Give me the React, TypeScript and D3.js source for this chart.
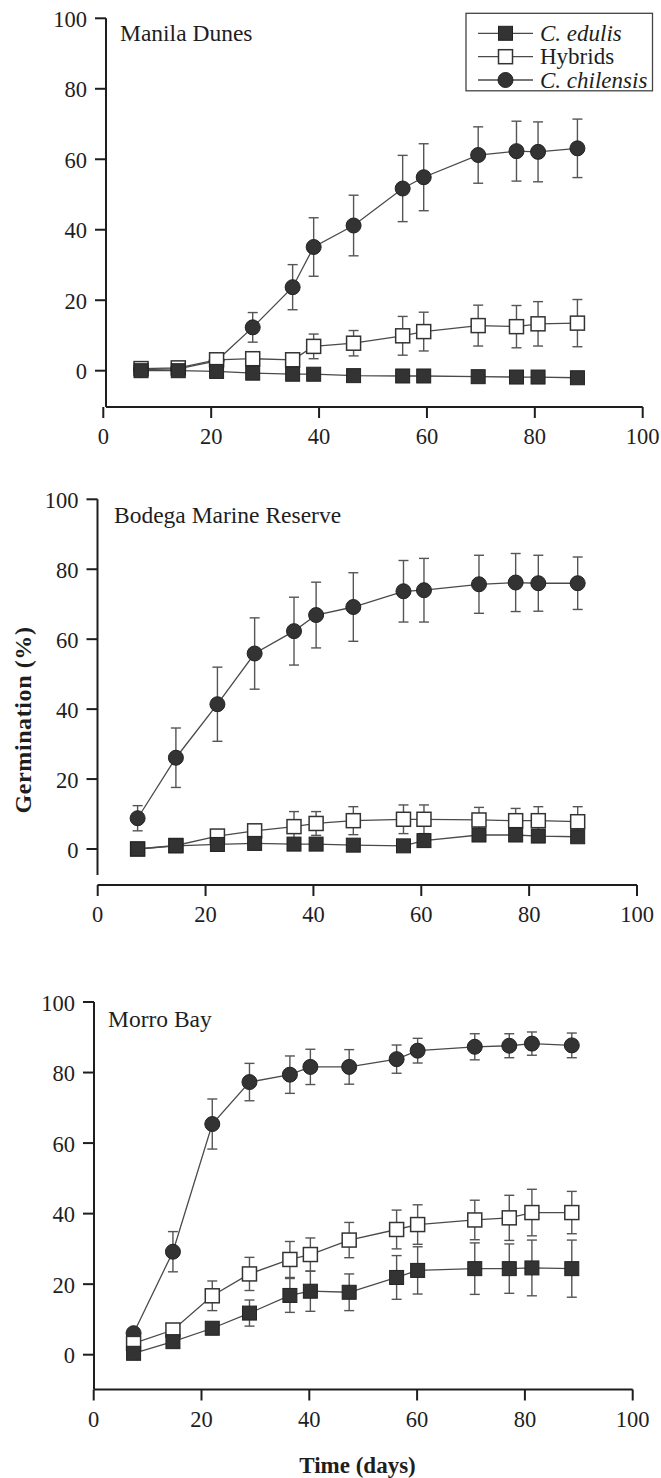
import React from "react";
import * as d3 from "d3";

// ---------- data ----------
const seriesNames = ["C. edulis", "Hybrids", "C. chilensis"];
const panelTitles = ["Manila Dunes", "Bodega Marine Reserve", "Morro Bay"];
const xTicks = [0, 20, 40, 60, 80, 100];
const yTicks = [0, 20, 40, 60, 80, 100];

// Manila Dunes
const manilaDays = [7, 13.9, 21, 27.7, 35.1, 39, 46.4, 55.5, 59.4, 69.5, 76.6, 80.6, 87.9];
const manilaEdulis = [0, 0, -0.2, -0.7, -1, -1, -1.4, -1.5, -1.5, -1.7, -1.8, -1.8, -2];
const manilaEdulisErr = [0, 0, 0, 0, 0, 0, 0, 0, 0, 0, 0, 0, 0];
const manilaHybrids = [0.6, 0.8, 3.1, 3.4, 3.1, 6.9, 7.8, 9.9, 11.1, 12.8, 12.5, 13.3, 13.5];
const manilaHybridsErr = [0, 0, 0, 0, 0, 3.5, 3.6, 5.5, 5.5, 5.8, 6, 6.3, 6.7];
const manilaChilensis = [0.3, 0.5, 2.8, 12.3, 23.7, 35.1, 41.2, 51.7, 54.9, 61.2, 62.3, 62.1, 63.1];
const manilaChilensisErr = [0, 0, 0.5, 4.2, 6.4, 8.3, 8.6, 9.4, 9.5, 8, 8.5, 8.5, 8.3];

// Bodega Marine Reserve
const bodegaDays = [7.4, 14.5, 22.2, 29.1, 36.4, 40.5, 47.4, 56.7, 60.5, 70.7, 77.5, 81.7, 89];
const bodegaEdulis = [0, 0.9, 1.3, 1.6, 1.4, 1.4, 1.1, 0.9, 2.4, 4, 4, 3.7, 3.5];
const bodegaEdulisErr = [0, 0, 0, 0, 0, 0, 0, 0, 0, 0, 0, 0, 0];
const bodegaHybrids = [0, 1, 3.7, 5.2, 6.4, 7.3, 8.1, 8.5, 8.5, 8.3, 8.1, 8.1, 7.8];
const bodegaHybridsErr = [0, 0, 0.5, 1, 4.3, 3.4, 4, 4.1, 4.1, 3.6, 3.5, 4, 4.3];
const bodegaChilensis = [8.8, 26.1, 41.4, 55.9, 62.3, 66.9, 69.2, 73.7, 74, 75.7, 76.2, 76, 76];
const bodegaChilensisErr = [3.6, 8.5, 10.6, 10.2, 9.7, 9.4, 9.8, 8.8, 9.1, 8.3, 8.3, 8, 7.5];

// Morro Bay
const morroDays = [7.4, 14.7, 22, 28.9, 36.4, 40.2, 47.4, 56.2, 60.1, 70.7, 77.1, 81.3, 88.7];
const morroEdulis = [0.4, 3.7, 7.5, 11.8, 16.8, 18, 17.7, 21.9, 23.9, 24.4, 24.4, 24.6, 24.4];
const morroEdulisErr = [0, 0, 0.5, 3.7, 4.8, 5.7, 5.2, 6.2, 6.7, 7.3, 7, 7.9, 8.1];
const morroHybrids = [3.2, 7, 16.7, 22.9, 27, 28.4, 32.5, 35.5, 36.9, 38.2, 38.8, 40.3, 40.3];
const morroHybridsErr = [0, 0, 4.2, 4.7, 5.1, 4.7, 5, 5.5, 5.6, 5.6, 6.4, 6.6, 6];
const morroChilensis = [6.1, 29.2, 65.4, 77.3, 79.4, 81.6, 81.6, 83.8, 86.2, 87.3, 87.6, 88.2, 87.7];
const morroChilensisErr = [0.5, 5.7, 7.1, 5.3, 5.3, 5, 4.9, 4, 3.5, 3.7, 3.4, 3.3, 3.5];

const panelsData = [
  {
    days: manilaDays,
    values: [manilaEdulis, manilaHybrids, manilaChilensis],
    errs: [manilaEdulisErr, manilaHybridsErr, manilaChilensisErr],
  },
  {
    days: bodegaDays,
    values: [bodegaEdulis, bodegaHybrids, bodegaChilensis],
    errs: [bodegaEdulisErr, bodegaHybridsErr, bodegaChilensisErr],
  },
  {
    days: morroDays,
    values: [morroEdulis, morroHybrids, morroChilensis],
    errs: [morroEdulisErr, morroHybridsErr, morroChilensisErr],
  },
];

// ---------- layout ----------
const layouts = [
  { x0: 103.3, x100: 642.7, y0: 370.7, y100: 18.3, axisX: 106, axisY: 407, yAxisBottom: 407, titleX: 120, titleY: 41 },
  { x0: 97.7, x100: 637, y0: 849, y100: 499.3, axisX: 97.5, axisY: 885, yAxisBottom: 875, titleX: 114, titleY: 523 },
  { x0: 93.7, x100: 632.7, y0: 1354.7, y100: 1002, axisX: 94, axisY: 1389.5, yAxisBottom: 1389.5, titleX: 108, titleY: 1027 },
];

const FONT = "'Liberation Serif', 'Times New Roman', serif";
const INK = "#1e1e1e";
const MARK = "#333";
const LINE = "#4a4a4a";
const ERR = "#555";
const TICK = 11;
const SQ = 14;
const R = 7.5;
const CAP = 5;

function Marker({ type, x, y }: { type: number; x: number; y: number }) {
  if (type === 2) return <circle cx={x} cy={y} r={R} fill={MARK} stroke="#222" strokeWidth={1} />;
  if (type === 1)
    return <rect x={x - SQ / 2} y={y - SQ / 2} width={SQ} height={SQ} fill="#fff" stroke={MARK} strokeWidth={1.5} />;
  return <rect x={x - SQ / 2} y={y - SQ / 2} width={SQ} height={SQ} fill={MARK} stroke="#222" strokeWidth={1} />;
}

function Panel({ idx }: { idx: number }) {
  const L = layouts[idx];
  const D = panelsData[idx];
  const x = d3.scaleLinear().domain([0, 100]).range([L.x0, L.x100]);
  const y = d3.scaleLinear().domain([0, 100]).range([L.y0, L.y100]);
  const line = d3
    .line<number>()
    .x((_, i) => x(D.days[i]))
    .y((v) => y(v));
  const order = [2, 1, 0];
  return (
    <g>
      {/* y axis */}
      <line x1={L.axisX} x2={L.axisX} y1={y(100)} y2={L.yAxisBottom} stroke={INK} strokeWidth={2} />
      {yTicks.map((t) => (
        <g key={"y" + t}>
          <line x1={L.axisX - TICK} x2={L.axisX} y1={y(t)} y2={y(t)} stroke={INK} strokeWidth={2} />
          <text x={L.axisX - TICK - 8} y={y(t) + 8.5} textAnchor="end" fontSize={22.5} fill={INK} fontFamily={FONT}>
            {t}
          </text>
        </g>
      ))}
      {/* x axis */}
      <line x1={L.axisX} x2={x(100)} y1={L.axisY} y2={L.axisY} stroke={INK} strokeWidth={2} />
      {xTicks.map((t) => (
        <g key={"x" + t}>
          <line x1={x(t)} x2={x(t)} y1={L.axisY} y2={L.axisY + TICK} stroke={INK} strokeWidth={2} />
          <text x={x(t)} y={L.axisY + 37} textAnchor="middle" fontSize={22.5} fill={INK} fontFamily={FONT}>
            {t}
          </text>
        </g>
      ))}
      <text x={L.titleX} y={L.titleY} fontSize={23.5} fill={INK} fontFamily={FONT}>
        {panelTitles[idx]}
      </text>
      {/* connecting lines */}
      {order.map((s) => (
        <path key={"l" + s} d={line(D.values[s]) || ""} fill="none" stroke={LINE} strokeWidth={1.3} />
      ))}
      {/* error bars */}
      {order.map((s) =>
        D.values[s].map((v, i) => {
          const e = D.errs[s][i];
          if (!e) return null;
          const cx = x(D.days[i]);
          const yt = y(v + e);
          const yb = y(v - e);
          return (
            <g key={"e" + s + "-" + i} stroke={ERR} strokeWidth={1.4}>
              <line x1={cx} x2={cx} y1={yt} y2={yb} />
              <line x1={cx - CAP} x2={cx + CAP} y1={yt} y2={yt} />
              <line x1={cx - CAP} x2={cx + CAP} y1={yb} y2={yb} />
            </g>
          );
        })
      )}
      {/* markers */}
      {order.map((s) =>
        D.values[s].map((v, i) => <Marker key={"m" + s + "-" + i} type={s} x={x(D.days[i])} y={y(v)} />)
      )}
    </g>
  );
}

function Legend() {
  const rows = [33.3, 56.7, 80];
  return (
    <g>
      <rect x={466} y={13.3} width={186.5} height={77.5} fill="#fff" stroke="#444" strokeWidth={1.3} />
      {seriesNames.map((name, i) => (
        <g key={name}>
          <line x1={478} x2={533} y1={rows[i]} y2={rows[i]} stroke={LINE} strokeWidth={1.3} />
          <Marker type={i} x={505.5} y={rows[i]} />
          <text
            x={540}
            y={rows[i] + 7.5}
            fontSize={23}
            fill={INK}
            fontFamily={FONT}
            fontStyle={i === 1 ? "normal" : "italic"}
          >
            {name}
          </text>
        </g>
      ))}
    </g>
  );
}

export default function App() {
  return (
    <svg
      width={661}
      height={1478}
      style={{ position: "absolute", left: 0, top: 0, background: "#fff" }}
      xmlns="http://www.w3.org/2000/svg"
    >
      <rect x={0} y={0} width={661} height={1478} fill="#fff" />
      {[0, 1, 2].map((i) => (
        <Panel key={i} idx={i} />
      ))}
      <Legend />
      <text
        transform="translate(31,720) rotate(-90)"
        textAnchor="middle"
        fontSize={24}
        fontWeight="bold"
        fill={INK}
        fontFamily={FONT}
        letterSpacing={0.6}
      >
        Germination (%)
      </text>
      <text x={357.5} y={1473} textAnchor="middle" fontSize={23} fontWeight="bold" fill={INK} fontFamily={FONT}>
        Time (days)
      </text>
    </svg>
  );
}
